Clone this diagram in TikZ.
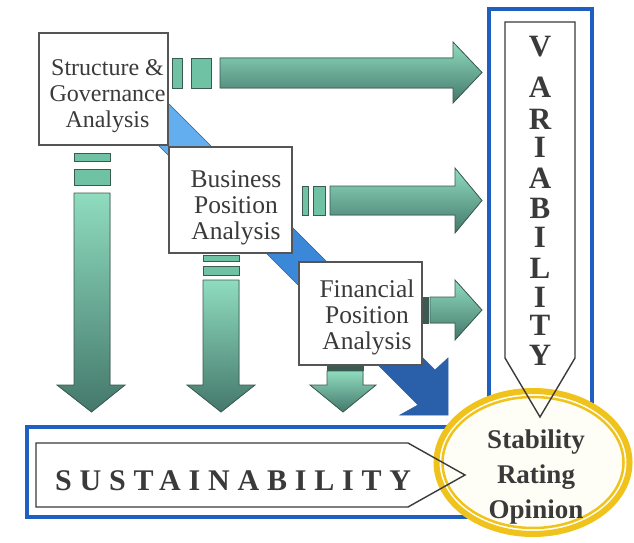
\documentclass[tikz,border=0pt]{standalone}
\usepackage{fontspec}
\setmainfont{Liberation Serif}
\usetikzlibrary{shapes.geometric}
\definecolor{mintL}{HTML}{8FDCBF}
\definecolor{mintM}{HTML}{6FC2A3}
\definecolor{mintD}{HTML}{44786B}
\definecolor{arrowedge}{HTML}{3A5A52}
\definecolor{bandA}{HTML}{62AEEE}
\definecolor{bandB}{HTML}{3C88D8}
\definecolor{bandC}{HTML}{2A5FAA}
\definecolor{bandedge}{HTML}{2A62A8}
\definecolor{frameblue}{HTML}{1F5FC0}
\definecolor{gold}{HTML}{F0C31C}
\definecolor{cream}{HTML}{FFFEF6}
\definecolor{txt}{HTML}{3A3A3A}
\definecolor{boxedge}{HTML}{555555}
\tikzset{
  harrow/.style={draw=arrowedge, line width=0.8, top color=mintL, middle color=mintM, bottom color=mintD},
  varrow/.style={draw=arrowedge, line width=0.8, top color=mintL, bottom color=mintD},
  dashbox/.style={draw=arrowedge, line width=0.8, fill=mintM},
  darkstrip/.style={draw=arrowedge, line width=0.8, fill=arrowedge},
  bandstyle/.style={draw=bandedge, line width=0.6},
  boxshape/.style={draw=boxedge, line width=1.4, fill=white, inner sep=0pt},
  boxtext/.style={align=center, text=txt, inner sep=0pt},
  frame/.style={draw=frameblue, line width=4},
  pent/.style={draw=txt, line width=1.4, line join=miter},
  vletter/.style={text=txt, inner sep=0pt, font=\bfseries\fontsize{31}{31}\selectfont}
}
\begin{document}
\begin{tikzpicture}[x=1pt, y=-1pt]
\useasboundingbox (0,0) rectangle (634,543);
\fill[white] (0,0) rectangle (634,543);

% blue diagonal band
\filldraw[bandstyle, fill=bandA] (160,95) -- (108,95) -- (213,200) -- (265,200) -- cycle;
\filldraw[bandstyle, fill=bandB] (265,200) -- (213,200) -- (313,300) -- (365,300) -- cycle;
\filldraw[bandstyle, fill=bandC] (365,300) -- (313,300) -- (418,405) -- (400,415) -- (448,415) -- (448,358) -- (435,370) -- cycle;

% horizontal arrows
\filldraw[dashbox] (172,58) rectangle (182,88);
\filldraw[dashbox] (191,58) rectangle (211,88);
\filldraw[harrow] (220,58) -- (453,58) -- (453,42) -- (482,72.5) -- (453,103) -- (453,88) -- (220,88) -- cycle;

\filldraw[dashbox] (302,186) rectangle (308,215);
\filldraw[dashbox] (313,186) rectangle (325,215);
\filldraw[harrow] (330,186) -- (455,186) -- (455,168) -- (482,200.5) -- (455,233) -- (455,215) -- (330,215) -- cycle;

\filldraw[darkstrip] (422,297) rectangle (428,323);
\filldraw[harrow] (430,297) -- (455,297) -- (455,280) -- (482,310) -- (455,340) -- (455,323) -- (430,323) -- cycle;

% vertical arrows
\filldraw[dashbox] (74,153) rectangle (110,161);
\filldraw[dashbox] (74,169) rectangle (110,185);
\filldraw[varrow] (74,193) -- (74,385) -- (57,385) -- (91.5,412) -- (125,385) -- (110,385) -- (110,193) -- cycle;

\filldraw[dashbox] (203,255) rectangle (239,261);
\filldraw[dashbox] (203,266) rectangle (239,275);
\filldraw[varrow] (203,280) -- (203,385) -- (187,385) -- (221,412) -- (255,385) -- (239,385) -- (239,280) -- cycle;

\filldraw[darkstrip] (327,365) rectangle (363,370);
\filldraw[varrow] (327,371) -- (327,385) -- (310,385) -- (343,412) -- (376,385) -- (363,385) -- (363,371) -- cycle;

% analysis boxes
\node[boxshape, minimum width=129, minimum height=112] (sg) at (103.5,89) {};
\node[boxtext, font=\fontsize{24}{26}\selectfont] (sgt) at (107.5,96.5) {Structure \&\\Governance\\Analysis};
\node[boxshape, minimum width=123, minimum height=106] (bp) at (230.5,200) {};
\node[boxtext, font=\fontsize{25.5}{26}\selectfont] (bpt) at (236,208) {Business\\Position\\Analysis};
\node[boxshape, minimum width=123, minimum height=103] (fp) at (360.5,313.5) {};
\node[boxtext, font=\fontsize{25.5}{26}\selectfont] (fpt) at (367,317) {Financial\\Position\\Analysis};

% blue frames
\draw[frame] (489,9) rectangle (592,430);
\draw[frame] (27,427) rectangle (475,517);

% opinion ellipse
\node[ellipse, draw=gold, line width=6, fill=cream, minimum width=193, minimum height=143, inner sep=0pt] (sro) at (533,462.5) {};
\node[ellipse, draw=gold, line width=2.5, minimum width=181, minimum height=131, inner sep=0pt] (sroin) at (533,462.5) {};

% pentagon arrows
\draw[pent] (505,22) -- (575,22) -- (575,358) -- (540,417) -- (505,358) -- cycle;
\draw[pent] (36,443) -- (408,443) -- (465,475) -- (408,507) -- (36,507) -- cycle;

% VARIABILITY letters
\foreach \l/\yy [count=\i] in {V/47,A/87,R/119,I/147,A/178,B/208,I/237,L/268,I/297,T/325,Y/355}
  \node[vletter] (var\i) at (540,\yy) {\l};

% SUSTAINABILITY
\node[anchor=base west, inner sep=0pt, text=txt, font=\bfseries\fontsize{30}{30}\selectfont\addfontfeature{LetterSpace=26}] (sus) at (55,490) {SUSTAINABILITY};

% opinion text
\node[align=center, inner sep=0pt, text=txt, font=\bfseries\fontsize{27}{35}\selectfont] (sroT) at (536,477) {Stability\\Rating\\Opinion};
\end{tikzpicture}
\end{document}
